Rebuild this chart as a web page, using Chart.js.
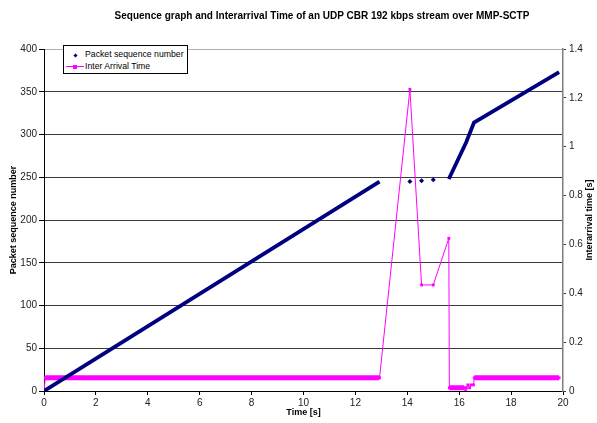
<!DOCTYPE html>
<html>
<head>
<meta charset="utf-8">
<script src="https://cdn.jsdelivr.net/npm/chart.js@4/dist/chart.umd.min.js"></script>
<style>
  body { margin:0; background:#fff; }
  #wrap { position:relative; width:597px; height:423px; font-family:"Liberation Sans", Arial, sans-serif; }
  #title { position:absolute; left:0; top:10px; width:644px; text-align:center; font-weight:bold; font-size:10px; color:#000; white-space:nowrap; }
  #legend { position:absolute; left:63px; top:45px; width:123px; height:27px; border:1px solid #000; background:#fff; font-size:8.7px; color:#000; }
  #legend .row { position:absolute; left:21px; white-space:nowrap; line-height:11px; }
  #legend .sw { position:absolute; }
</style>
</head>
<body>
<div id="wrap">
  <canvas id="chart" width="597" height="423"></canvas>
  <div id="title"></div>
  <div id="legend"></div>
</div>
<script>
/* Sequence graph + inter-arrival time, UDP CBR 192 kbps over MMP-SCTP */

const chartTitle = 'Sequence graph and Interarrival Time of an UDP CBR 192 kbps stream over MMP-SCTP';
const seqName = 'Packet sequence number';
const iatName = 'Inter Arrival Time';
const xTitle  = 'Time [s]';
const yTitle  = 'Packet sequence number';
const y1Title = 'Interarrival time [s]';

// packet sequence number: two dense runs (drawn as thick lines) + three lone packets
const seqRunA_t = [0, 12.93];
const seqRunA_n = [0, 245];
const seqLone_t = [14.1, 14.55, 15.0];
const seqLone_n = [245, 246, 247];
const seqRunB_t = [15.6, 16.27, 16.57, 19.85];
const seqRunB_n = [248, 291, 314, 373];

// inter-arrival time [s]
const iatTime = [0, 0.05, 12.93, 14.1, 14.55, 15.0, 15.6, 15.62, 16.2, 16.25, 16.28, 16.33, 16.4, 16.45, 16.55, 16.58, 19.85];
const iatSec  = [0, 0.054, 0.054, 1.235, 0.434, 0.434, 0.625, 0.013, 0.013, 0.0, 0.013, 0.025, 0.013, 0.025, 0.025, 0.054, 0.054];

// dense runs of inter-arrival markers (they merge into a thick band)
const runStart = [0.05, 15.62, 16.58];
const runEnd   = [12.93, 16.2, 19.85];
const runLevel = [0.054, 0.013, 0.054];

const NAVY = '#000080', MAGENTA = '#ff00ff';
const FONT = '"Liberation Sans", Arial, sans-serif';

const pts = (xs, ys) => xs.map((x, i) => ({ x, y: ys[i] }));

const bandData = [];
runStart.forEach((s, i) => {
  bandData.push({ x: s, y: runLevel[i] }, { x: runEnd[i], y: runLevel[i] }, { x: runEnd[i], y: null });
});

const datasets = [
  { label: seqName, data: pts(seqRunA_t, seqRunA_n), yAxisID: 'y', showLine: true,
    borderColor: NAVY, borderWidth: 3.8, pointRadius: 0, borderCapStyle: 'butt' },
  { label: seqName, data: pts(seqRunB_t, seqRunB_n), yAxisID: 'y', showLine: true,
    borderColor: NAVY, borderWidth: 3.8, pointRadius: 0, borderCapStyle: 'butt' },
  { label: seqName, data: pts(seqLone_t, seqLone_n), yAxisID: 'y', showLine: false,
    pointStyle: 'rectRot', pointRadius: 2.5, backgroundColor: NAVY, borderColor: NAVY, borderWidth: 0 },
  { label: iatName, data: bandData, yAxisID: 'y1', showLine: true, spanGaps: false,
    borderColor: MAGENTA, borderWidth: 5, pointRadius: 0, borderCapStyle: 'butt' },
  { label: iatName, data: pts(iatTime, iatSec), yAxisID: 'y1', showLine: true,
    borderColor: MAGENTA, borderWidth: 1, pointStyle: 'rect', pointRadius: 2,
    backgroundColor: MAGENTA, pointBorderColor: MAGENTA, pointBorderWidth: 0 },
];

const rightTitle = {
  id: 'rightTitle',
  afterDraw(chart) {
    const s = chart.scales.y1, a = chart.chartArea, ctx = chart.ctx;
    ctx.save();
    ctx.translate(s.right - 7.5, (a.top + a.bottom) / 2);
    ctx.rotate(-Math.PI / 2);
    ctx.font = 'bold 9px ' + FONT;
    ctx.fillStyle = '#000';
    ctx.textAlign = 'center';
    ctx.textBaseline = 'middle';
    ctx.fillText(y1Title, 0, 0);
    ctx.restore();
  }
};

const tickFont = { family: FONT, size: 10 };

new Chart(document.getElementById('chart'), {
  type: 'scatter',
  data: { datasets },
  plugins: [rightTitle],
  options: {
    responsive: false, animation: false,
    layout: { padding: { top: 49, left: 0, right: 0, bottom: 0 } },
    plugins: { legend: { display: false }, tooltip: { enabled: false }, title: { display: false } },
    scales: {
      x: { type: 'linear', min: 0, max: 20,
           ticks: { stepSize: 2, color: '#222', font: tickFont, padding: 2, maxRotation: 0 },
           grid: { drawOnChartArea: false, tickLength: 4, tickColor: '#000' },
           border: { color: '#000', width: 1 },
           title: { display: true, text: xTitle, color: '#000', font: { family: FONT, size: 9, weight: 'bold' },
                    padding: { top: 0, bottom: 5 } },
           afterFit: s => { s.height = 32; } },
      y: { position: 'left', min: 0, max: 400,
           ticks: { stepSize: 50, color: '#222', font: tickFont, padding: 2 },
           grid: { color: c => c.tick.value === 400 ? '#b0b0b0' : '#3a3a3a', tickLength: 5, tickColor: '#000' },
           border: { color: '#000', width: 1 },
           title: { display: true, text: yTitle, color: '#000', font: { family: FONT, size: 9, weight: 'bold' },
                    padding: { top: 8, bottom: 0 } },
           afterFit: s => { s.width = 44; } },
      y1: { position: 'right', min: 0, max: 1.4,
            ticks: { stepSize: 0.2, color: '#222', font: tickFont, padding: 3,
                     callback: v => String(+v.toFixed(1)) },
            grid: { drawOnChartArea: false, tickLength: 3, tickColor: '#333' },
            border: { color: '#808080', width: 1.5 },
            afterFit: s => { s.width = 34; } }
    }
  }
});

document.getElementById('title').textContent = chartTitle;
document.getElementById('legend').innerHTML =
  '<span class="sw" style="left:10px;top:8px;width:3px;height:3px;background:' + NAVY + ';transform:rotate(45deg)"></span>' +
  '<span class="row" style="top:3px">' + seqName + '</span>' +
  '<span class="sw" style="left:2px;top:20px;width:18px;height:1px;background:' + MAGENTA + '"></span>' +
  '<span class="sw" style="left:9px;top:18.5px;width:4px;height:4px;background:' + MAGENTA + '"></span>' +
  '<span class="row" style="top:15px">' + iatName + '</span>';
</script>
</body>
</html>
